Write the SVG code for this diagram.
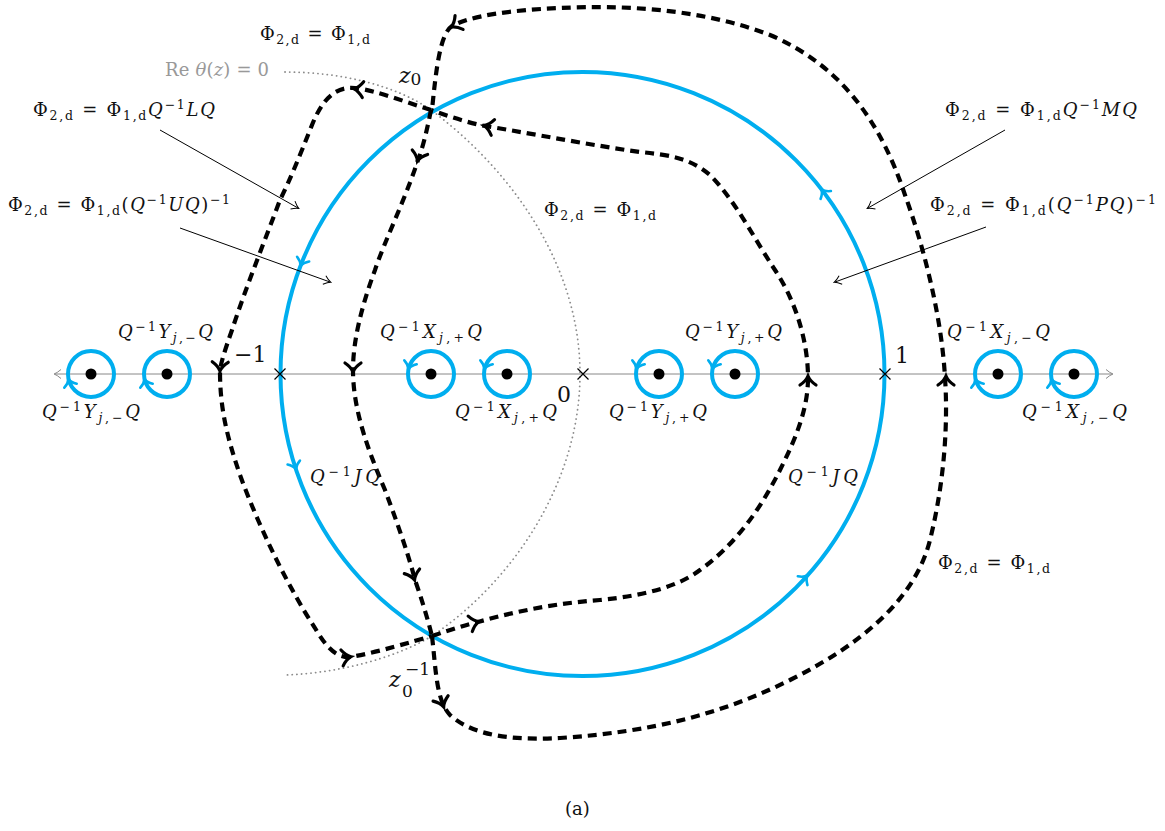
<svg xmlns="http://www.w3.org/2000/svg" xmlns:xlink="http://www.w3.org/1999/xlink" width="1165" height="831" viewBox="0 0 1165 831">
<style>
.t{font-family:"DejaVu Serif","Liberation Serif",serif;font-size:18px;fill:#111}
.i{font-style:italic}
.s{font-size:12.5px}
.big{font-family:"DejaVu Serif","Liberation Serif",serif;font-size:22px;fill:#111}
.gray{fill:#999}
.dash{fill:none;stroke:#000;stroke-width:4.2;stroke-dasharray:9 6}
.dot{fill:none;stroke:#8c8c8c;stroke-width:1.8;stroke-dasharray:0.1 4.6;stroke-linecap:round}
.cy{fill:none;stroke:#00aeef;stroke-width:4}
.ann{fill:none;stroke:#000;stroke-width:1;marker-end:url(#ta)}
.cross{stroke:#000;stroke-width:1.2}
</style>
<defs>
<marker id="ta" viewBox="-7 -6 9 12" markerWidth="9" markerHeight="12" refX="0" refY="0" orient="auto" markerUnits="userSpaceOnUse"><path d="M-6,-4.5 Q-2,-1 1,0 Q-2,1 -6,4.5" fill="none" stroke="#000" stroke-width="1"/></marker>
<marker id="ga" viewBox="-7 -6 9 12" markerWidth="9" markerHeight="12" refX="0" refY="0" orient="auto-start-reverse" markerUnits="userSpaceOnUse"><path d="M-6,-4.5 Q-2,-1 1,0 Q-2,1 -6,4.5" fill="none" stroke="#888" stroke-width="1"/></marker>
<path id="ah" d="M-7,-8 Q-3,-2 2,0 Q-3,2 -7,8" fill="none" stroke="#000" stroke-width="3.2" stroke-linecap="round"/>
<path id="ch" d="M-5,-6.5 Q-2,-1.5 2,0 Q-2,1.5 -5,6.5" fill="none" stroke="#00aeef" stroke-width="2.6" stroke-linecap="round"/>
</defs>
<rect width="1165" height="831" fill="#fff"/>

<g id="axis">
<line x1="55" y1="374" x2="1112" y2="374" stroke="#888" stroke-width="1" marker-start="url(#ga)" marker-end="url(#ga)"/>
</g>

<g id="re-theta-curve">
<path class="dot" d="M285,72 C340,72 395,85 431,110 C505,165 580,260 580,374 C580,480 515,580 432,636 C395,658 340,673 285,675"/>
</g>

<g id="unit-circle">
<circle class="cy" cx="582.5" cy="374" r="302"/>
<use xlink:href="#ch" transform="translate(301.3,263.8) rotate(111.4)"/>
<use xlink:href="#ch" transform="translate(295.3,467.3) rotate(72)"/>
<use xlink:href="#ch" transform="translate(822.7,191) rotate(232.7)"/>
<use xlink:href="#ch" transform="translate(806,577) rotate(-47.7)"/>
</g>

<g id="crosses">
<path class="cross" d="M274.5,368.5 L285.5,379.5 M285.5,368.5 L274.5,379.5"/>
<path class="cross" d="M577.5,368.5 L588.5,379.5 M588.5,368.5 L577.5,379.5"/>
<path class="cross" d="M879.5,368.5 L890.5,379.5 M890.5,368.5 L879.5,379.5"/>
<text class="big" x="234" y="362">−1</text>
<text class="big" x="895" y="363">1</text>
<text class="big" x="557" y="402">0</text>
</g>

<g id="pole-y-minus-1"><circle class="cy" cx="91" cy="374" r="23"/><circle cx="91" cy="374" r="5.5"/><use xlink:href="#ch" transform="translate(69,381) rotate(-107.6)"/></g>
<g id="pole-y-minus-2"><circle class="cy" cx="167" cy="374" r="23"/><circle cx="167" cy="374" r="5.5"/><use xlink:href="#ch" transform="translate(145,381) rotate(-107.6)"/></g>
<g id="pole-x-plus-1"><circle class="cy" cx="431" cy="374" r="23"/><circle cx="431" cy="374" r="5.5"/><use xlink:href="#ch" transform="translate(409,367) rotate(107.6)"/></g>
<g id="pole-x-plus-2"><circle class="cy" cx="507" cy="374" r="23"/><circle cx="507" cy="374" r="5.5"/><use xlink:href="#ch" transform="translate(485,367) rotate(107.6)"/></g>
<g id="pole-y-plus-1"><circle class="cy" cx="659" cy="374" r="23"/><circle cx="659" cy="374" r="5.5"/><use xlink:href="#ch" transform="translate(637,367) rotate(107.6)"/></g>
<g id="pole-y-plus-2"><circle class="cy" cx="735" cy="374" r="23"/><circle cx="735" cy="374" r="5.5"/><use xlink:href="#ch" transform="translate(713,367) rotate(107.6)"/></g>
<g id="pole-x-minus-1"><circle class="cy" cx="998" cy="374" r="23"/><circle cx="998" cy="374" r="5.5"/><use xlink:href="#ch" transform="translate(976,381) rotate(-107.6)"/></g>
<g id="pole-x-minus-2"><circle class="cy" cx="1074" cy="374" r="23"/><circle cx="1074" cy="374" r="5.5"/><use xlink:href="#ch" transform="translate(1052,381) rotate(-107.6)"/></g>

<g id="connectors">
<path id="outer" class="dash" d="M432,636 C436,670 436,700 450,715 C475,738 520,740 560,738 C650,732 720,715 790,680 C860,645 915,600 930,540 C945,480 948,420 945,378 C942,320 925,250 905,195 C880,120 840,65 770,35 C700,8 620,5 560,8 C510,10 470,16 452,26 C440,34 436,70 432,110"/>
<path id="left" class="dash" d="M431,110 C405,102 375,90 355,88 C335,86 322,100 312,125 C300,155 290,180 280,200 C265,240 245,290 232,330 C225,350 220,365 220,372 C220,410 228,440 240,475 C260,530 290,590 315,628 C325,645 335,658 350,657 C380,652 410,642 432,636"/>
<path id="inner-left" class="dash" d="M431,110 C426,135 422,150 418,160 C405,200 385,240 375,270 C362,305 353,340 353,370 C353,410 368,450 385,490 C400,530 410,560 415,580 C422,600 428,620 432,636"/>
<path id="inner-right" class="dash" d="M432,636 C450,630 465,625 478,622 C520,610 560,603 600,600 C650,595 680,585 700,570 C735,545 760,510 780,470 C795,440 808,410 808,378 C808,340 795,300 775,270 C755,240 735,200 710,175 C690,158 670,155 640,152 C590,145 540,135 485,126 C465,122 445,115 431,110"/>
<use xlink:href="#ah" transform="translate(443,705) rotate(70)"/>
<use xlink:href="#ah" transform="translate(946,378) rotate(-90)"/>
<use xlink:href="#ah" transform="translate(453,26) rotate(150)"/>
<use xlink:href="#ah" transform="translate(356,89) rotate(185)"/>
<use xlink:href="#ah" transform="translate(220,369) rotate(92)"/>
<use xlink:href="#ah" transform="translate(349,657) rotate(-8)"/>
<use xlink:href="#ah" transform="translate(418,159) rotate(106)"/>
<use xlink:href="#ah" transform="translate(353,370) rotate(90)"/>
<use xlink:href="#ah" transform="translate(414,578) rotate(73)"/>
<use xlink:href="#ah" transform="translate(477,622) rotate(-15)"/>
<use xlink:href="#ah" transform="translate(808,378) rotate(-90)"/>
<use xlink:href="#ah" transform="translate(486,126) rotate(192)"/>
<path class="ann" d="M160,130 L298,208"/>
<path class="ann" d="M180,228 L330,282"/>
<path class="ann" d="M1005,130 L868,208"/>
<path class="ann" d="M986,227 L835,282"/>
</g>

<g id="labels">
<text class="t" x="260" y="40" textLength="110">Φ<tspan class="s" dy="3.5">2,d</tspan><tspan dy="-3.5"> = Φ</tspan><tspan class="s" dy="3.5">1,d</tspan></text>
<text class="t gray" x="165" y="76" textLength="104">Re <tspan class="i">θ</tspan>(<tspan class="i">z</tspan>) = 0</text>
<text class="t" x="33" y="116" textLength="182">Φ<tspan class="s" dy="3.5">2,d</tspan><tspan dy="-3.5"> = Φ</tspan><tspan class="s" dy="3.5">1,d</tspan><tspan class="i" dy="-3.5">Q</tspan><tspan class="s" dy="-7">−1</tspan><tspan class="i" dy="7">LQ</tspan></text>
<text class="t" x="8" y="211" textLength="222">Φ<tspan class="s" dy="3.5">2,d</tspan><tspan dy="-3.5"> = Φ</tspan><tspan class="s" dy="3.5">1,d</tspan><tspan dy="-3.5">(</tspan><tspan class="i">Q</tspan><tspan class="s" dy="-7">−1</tspan><tspan class="i" dy="7">UQ</tspan>)<tspan class="s" dy="-7">−1</tspan></text>
<text class="t" x="544" y="216" textLength="112">Φ<tspan class="s" dy="3.5">2,d</tspan><tspan dy="-3.5"> = Φ</tspan><tspan class="s" dy="3.5">1,d</tspan></text>
<text class="t" x="945" y="116" textLength="192">Φ<tspan class="s" dy="3.5">2,d</tspan><tspan dy="-3.5"> = Φ</tspan><tspan class="s" dy="3.5">1,d</tspan><tspan class="i" dy="-3.5">Q</tspan><tspan class="s" dy="-7">−1</tspan><tspan class="i" dy="7">MQ</tspan></text>
<text class="t" x="930" y="211" textLength="226">Φ<tspan class="s" dy="3.5">2,d</tspan><tspan dy="-3.5"> = Φ</tspan><tspan class="s" dy="3.5">1,d</tspan><tspan dy="-3.5">(</tspan><tspan class="i">Q</tspan><tspan class="s" dy="-7">−1</tspan><tspan class="i" dy="7">PQ</tspan>)<tspan class="s" dy="-7">−1</tspan></text>
<text class="t" x="938" y="569" textLength="112">Φ<tspan class="s" dy="3.5">2,d</tspan><tspan dy="-3.5"> = Φ</tspan><tspan class="s" dy="3.5">1,d</tspan></text>

<text class="t" x="118" y="338" textLength="95"><tspan class="i">Q</tspan><tspan class="s" dy="-7">−1</tspan><tspan class="i" dy="7">Y</tspan><tspan class="s" dy="3.5"><tspan class="i">j</tspan>,−</tspan><tspan class="i" dy="-3.5">Q</tspan></text>
<text class="t" x="42" y="418" textLength="98"><tspan class="i">Q</tspan><tspan class="s" dy="-7">−1</tspan><tspan class="i" dy="7">Y</tspan><tspan class="s" dy="3.5"><tspan class="i">j</tspan>,−</tspan><tspan class="i" dy="-3.5">Q</tspan></text>
<text class="t" x="380" y="338" textLength="102"><tspan class="i">Q</tspan><tspan class="s" dy="-7">−1</tspan><tspan class="i" dy="7">X</tspan><tspan class="s" dy="3.5"><tspan class="i">j</tspan>,+</tspan><tspan class="i" dy="-3.5">Q</tspan></text>
<text class="t" x="455" y="418" textLength="102"><tspan class="i">Q</tspan><tspan class="s" dy="-7">−1</tspan><tspan class="i" dy="7">X</tspan><tspan class="s" dy="3.5"><tspan class="i">j</tspan>,+</tspan><tspan class="i" dy="-3.5">Q</tspan></text>
<text class="t" x="685" y="338" textLength="97"><tspan class="i">Q</tspan><tspan class="s" dy="-7">−1</tspan><tspan class="i" dy="7">Y</tspan><tspan class="s" dy="3.5"><tspan class="i">j</tspan>,+</tspan><tspan class="i" dy="-3.5">Q</tspan></text>
<text class="t" x="609" y="418" textLength="98"><tspan class="i">Q</tspan><tspan class="s" dy="-7">−1</tspan><tspan class="i" dy="7">Y</tspan><tspan class="s" dy="3.5"><tspan class="i">j</tspan>,+</tspan><tspan class="i" dy="-3.5">Q</tspan></text>
<text class="t" x="947" y="338" textLength="103"><tspan class="i">Q</tspan><tspan class="s" dy="-7">−1</tspan><tspan class="i" dy="7">X</tspan><tspan class="s" dy="3.5"><tspan class="i">j</tspan>,−</tspan><tspan class="i" dy="-3.5">Q</tspan></text>
<text class="t" x="1022" y="418" textLength="105"><tspan class="i">Q</tspan><tspan class="s" dy="-7">−1</tspan><tspan class="i" dy="7">X</tspan><tspan class="s" dy="3.5"><tspan class="i">j</tspan>,−</tspan><tspan class="i" dy="-3.5">Q</tspan></text>

<text class="t" x="310" y="483" textLength="70"><tspan class="i">Q</tspan><tspan class="s" dy="-7">−1</tspan><tspan class="i" dy="7">JQ</tspan></text>
<text class="t" x="788" y="483" textLength="70"><tspan class="i">Q</tspan><tspan class="s" dy="-7">−1</tspan><tspan class="i" dy="7">JQ</tspan></text>

<text class="big" x="399" y="83"><tspan class="i">z</tspan><tspan font-size="17" dy="2">0</tspan></text>
<text class="big" x="389" y="687"><tspan class="i">z</tspan><tspan font-size="17" x="402" dy="10">0</tspan><tspan font-size="17" x="405" dy="-22">−1</tspan></text>

<text x="565" y="815" style="font-family:'DejaVu Serif','Liberation Serif',serif;font-size:18px;fill:#111">(a)</text>
</g>
</svg>
